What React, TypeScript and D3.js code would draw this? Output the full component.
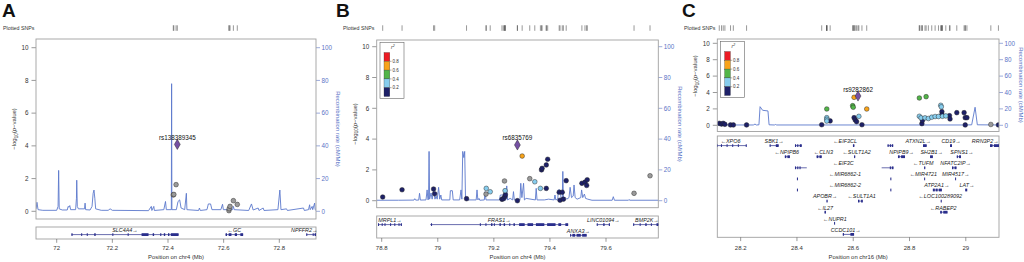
import React from "react";
import * as d3 from "d3";

const FONT = "'Liberation Sans', Arial, Helvetica, sans-serif";

type Gene = { name: string; start: number; end: number; strand: 1 | -1; row: number; exons: [number, number][]; label?: number };

// ---------- shared ----------
const leftTicks = [0, 2, 4, 6, 8, 10];
const rightTicks = [0, 20, 40, 60, 80, 100];
const ldBreaks = [0.2, 0.4, 0.6, 0.8];
const ldColors = ["#1d2068", "#87cdee", "#52b548", "#f8a31a", "#ec1c24"];
const ldLegendLabels = ["0.8", "0.6", "0.4", "0.2"];

// ---------- Panel A (chr4) ----------
const aDomain: [number, number] = [71.9256, 72.9319];
const aTicks = [72, 72.2, 72.4, 72.6, 72.8];
const aRecomb: [number, number][] = [
  [71.926, 1.5], [71.929, 5.5], [71.933, 1.0], [71.95, 0.6], [72.0, 0.6], [72.005, 3], [72.007, 25], [72.009, 1.5],
  [72.02, 0.8], [72.038, 0.8], [72.041, 3], [72.044, 2.5], [72.047, 3.5], [72.05, 1], [72.068, 1], [72.071, 8],
  [72.072, 19], [72.074, 3], [72.078, 1.5], [72.1, 1.5], [72.102, 5], [72.104, 1], [72.12, 0.8], [72.127, 3],
  [72.131, 11], [72.134, 13], [72.137, 8], [72.14, 1.5], [72.16, 0.6], [72.185, 0.6], [72.192, 1.5], [72.2, 0.6],
  [72.33, 0.4], [72.34, 3], [72.342, 0.5], [72.349, 3], [72.351, 0.5], [72.385, 1], [72.391, 6], [72.394, 1],
  [72.412, 1], [72.413, 78], [72.414, 1], [72.43, 1], [72.436, 6], [72.442, 7], [72.447, 2], [72.46, 1],
  [72.466, 11], [72.468, 1], [72.51, 0.5], [72.513, 2], [72.516, 0.5], [72.54, 1], [72.545, 4.5], [72.553, 4.5],
  [72.558, 1], [72.59, 1], [72.596, 4.3], [72.599, 1], [72.632, 1], [72.635, 3], [72.638, 1], [72.69, 0.5],
  [72.70, 4.5], [72.706, 0.8], [72.724, 2], [72.727, 0.5], [72.742, 2], [72.745, 0.5], [72.795, 1], [72.802, 13],
  [72.806, 1], [72.826, 1.5], [72.829, 0.5], [72.887, 2], [72.89, 0.5], [72.905, 1], [72.909, 4], [72.911, 1],
  [72.918, 3], [72.92, 1], [72.927, 5], [72.929, 1], [72.932, 0.5],
];
const aSnpPos = [72.419, 72.421, 72.429, 72.619, 72.62, 72.623, 72.635, 72.649];
const aSnpLogP = [1.0, 1.03, 1.63, 0.04, 0.16, 0.3, 0.65, 0.42];
const aSnpR2: (number | null)[] = [null, null, null, null, null, null, null, null];
const aLead = { name: "rs138389345", pos: 72.4335, logp: 4.09 };
const aGenes: Gene[] = [
  { name: "SLC4A4", start: 72.053, end: 72.438, strand: 1, row: 0, exons: [[72.053, 72.057], [72.088, 72.09], [72.108, 72.11], [72.135, 72.14], [72.2, 72.202], [72.255, 72.257], [72.305, 72.33], [72.345, 72.35], [72.372, 72.376], [72.385, 72.39], [72.4, 72.405], [72.41, 72.438]] },
  { name: "GC", start: 72.607, end: 72.67, strand: -1, row: 0, exons: [[72.607, 72.612], [72.618, 72.628], [72.64, 72.648], [72.66, 72.67]] },
  { name: "NPFFR2", start: 72.897, end: 72.96, strand: 1, row: 0, exons: [[72.897, 72.9], [72.92, 72.923], [72.927, 72.932]] },
];

// ---------- Panel B (chr4) ----------
const bDomain: [number, number] = [78.7822, 79.7865];
const bTicks = [78.8, 79, 79.2, 79.4, 79.6];
const bRecomb: [number, number][] = [
  [78.782, 0.3], [78.86, 0.3], [78.915, 0.4], [78.918, 1.3], [78.921, 0.4], [78.932, 0.4], [78.935, 4.8], [78.938, 0.4],
  [78.958, 0.5], [78.962, 7], [78.965, 0.5], [78.967, 1], [78.969, 32], [78.971, 1], [78.976, 5], [78.98, 1],
  [78.985, 7.4], [78.99, 1], [78.994, 3], [78.998, 1], [79.003, 8.7], [79.007, 1], [79.011, 3.7], [79.014, 0.5],
  [79.043, 0.5], [79.045, 6.5], [79.052, 6.5], [79.055, 0.5], [79.078, 0.5], [79.083, 7], [79.086, 1], [79.089, 32],
  [79.093, 28], [79.096, 32], [79.099, 1], [79.104, 2], [79.108, 0.5], [79.137, 0.5], [79.14, 7], [79.143, 0.5],
  [79.147, 1.5], [79.15, 0.3], [79.166, 0.5], [79.169, 5.9], [79.172, 0.5], [79.22, 0.5], [79.223, 3.7], [79.234, 3.7],
  [79.237, 0.5], [79.243, 0.5], [79.246, 9.6], [79.249, 0.5], [79.258, 1.5], [79.267, 0.5], [79.27, 5.9], [79.273, 0.5],
  [79.293, 0.5], [79.296, 11.3], [79.3, 2], [79.306, 11.3], [79.309, 0.5], [79.315, 1.5], [79.348, 0.5], [79.351, 8],
  [79.354, 0.5], [79.38, 0.5], [79.395, 1], [79.415, 0.5], [79.418, 3.7], [79.421, 0.5], [79.428, 1], [79.43, 7],
  [79.436, 7], [79.44, 1], [79.444, 1], [79.446, 19], [79.448, 1], [79.455, 2], [79.46, 1], [79.468, 2],
  [79.472, 8.7], [79.477, 2], [79.483, 3], [79.486, 10.2], [79.49, 2], [79.497, 1], [79.51, 2], [79.513, 7],
  [79.517, 2], [79.523, 4.3], [79.527, 1.5], [79.535, 1], [79.55, 0.3], [79.622, 0.3], [79.626, 2.6], [79.63, 0.3],
  [79.68, 0.3], [79.682, 0.8], [79.685, 0.3], [79.786, 0.3],
];
const bSnpPos = [78.8036, 78.8726, 78.985, 78.989, 79.1026, 79.173, 79.187, 79.172, 79.238, 79.24, 79.229, 79.234, 79.239, 79.241, 79.284, 79.301, 79.328, 79.346, 79.366, 79.37, 79.372, 79.387, 79.392, 79.387, 79.433, 79.444, 79.436, 79.448, 79.458, 79.514, 79.525, 79.533, 79.531, 79.7, 79.757];
const bSnpLogP = [0.24, 0.71, 0.76, 0.45, 0.13, 0.8, 0.58, 0.43, 1.28, 0.65, 0.09, 0.13, 0.26, 0.39, 0.0, 2.9, 1.43, 1.23, 0.8, 2.0, 2.1, 2.32, 2.69, 0.8, 0.55, 0.55, 0.03, 0.1, 1.3, 1.13, 1.2, 1.36, 0.99, 0.48, 1.62];
const bSnpR2: (number | null)[] = [0.1, 0.1, 0.1, 0.1, 0.1, 0.3, 0.3, null, null, 0.3, 0.1, 0.1, 0.1, 0.1, 0.1, 0.7, null, 0.3, 0.3, 0.1, 0.1, 0.1, 0.1, 0.1, 0.1, 0.1, 0.1, 0.1, 0.1, 0.1, 0.1, 0.1, 0.1, null, null];
const bLead = { name: "rs6835769", pos: 79.284, logp: 3.62 };
const bGenes: Gene[] = [
  { name: "MRPL1", start: 78.787, end: 78.872, strand: 1, row: 0, exons: [[78.787, 78.79], [78.8, 78.802], [78.81, 78.812], [78.83, 78.832], [78.845, 78.847], [78.86, 78.862], [78.868, 78.872]] },
  { name: "FRAS1", start: 78.973, end: 79.465, strand: 1, row: 0, exons: [[78.976, 78.979], [79.15, 79.152], [79.17, 79.172], [79.19, 79.195], [79.2, 79.202], [79.22, 79.225], [79.235, 79.24], [79.255, 79.258], [79.27, 79.275], [79.29, 79.31], [79.32, 79.34], [79.35, 79.38], [79.39, 79.42], [79.43, 79.44], [79.455, 79.465]] },
  { name: "LINC01094", start: 79.567, end: 79.614, strand: 1, row: 0, exons: [[79.567, 79.57], [79.59, 79.595], [79.61, 79.614]] },
  { name: "BMP2K", start: 79.697, end: 79.795, strand: 1, row: 0, exons: [[79.697, 79.7], [79.72, 79.722], [79.74, 79.745], [79.76, 79.762], [79.78, 79.795]] },
  { name: "ANXA3", start: 79.472, end: 79.531, strand: 1, row: 1, exons: [[79.472, 79.475], [79.48, 79.49], [79.495, 79.51], [79.515, 79.531]] },
];

// ---------- Panel C (chr16) ----------
const cDomain: [number, number] = [28.117, 29.118];
const cTicks = [28.2, 28.4, 28.6, 28.8, 29];
const cRecomb: [number, number][] = [
  [28.117, 0.4], [28.245, 0.4], [28.251, 1.5], [28.256, 0.4], [28.265, 0.6], [28.269, 22.7], [28.278, 18.3],
  [28.297, 17.5], [28.301, 0.6], [28.32, 0.4], [28.324, 1.0], [28.328, 0.4], [29.0, 0.4], [29.021, 0.6],
  [29.033, 22], [29.041, 0.6], [29.118, 0.4],
];
const cSnpPos = [
  28.124, 28.132, 28.138, 28.144, 28.164, 28.174, 28.221, 28.488, 28.518, 28.603, 28.607, 28.612, 28.631, 28.844, 28.846, 28.915, 28.915, 28.942, 28.944, 28.968, 28.994, 28.998, 29.004, 28.998, 29.116,
  28.506, 28.506, 28.506, 28.62, 28.835, 28.841, 28.855, 28.867, 28.879, 28.891, 28.903, 28.911, 28.913, 28.917, 28.929,
  28.506, 28.598, 28.6, 28.835, 28.859,
  28.603, 28.648,
  29.089,
];
const cSnpLogP = [
  0.24, 0.15, 0.24, 0.12, 0.04, 0.04, 0.04, 0.07, 0.53, 0.93, 0.65, 0.44, 0.07, 0.2, 0.6, 1.66, 1.3, 1.17, 0.77, 1.54, 1.54, 0.93, 0.93, 0.04, 0.04,
  0.93, 0.73, 0.52, 1.09, 1.1, 0.91, 0.91, 0.83, 0.99, 1.07, 1.07, 2.44, 2.25, 1.1, 1.14,
  1.99, 2.39, 2.2, 3.33, 3.49,
  3.41, 1.99,
  0.1,
];
const cSnpR2: (number | null)[] = [
  0.1, 0.1, 0.1, 0.1, 0.1, 0.1, 0.1, 0.1, 0.1, 0.1, 0.1, 0.1, 0.1, 0.1, 0.1, 0.1, 0.1, 0.1, 0.1, 0.1, 0.1, 0.1, 0.1, 0.1, 0.1,
  0.3, 0.3, 0.3, 0.3, 0.3, 0.3, 0.3, 0.3, 0.3, 0.3, 0.3, 0.3, 0.3, 0.3, 0.3,
  0.5, 0.5, 0.5, 0.5, 0.5,
  0.7, 0.7,
  null,
];
const cLead = { name: "rs9282862", pos: 28.617, logp: 3.57 };
const cGenes: Gene[] = [
  { name: "XPO6", start: 28.1, end: 28.221, strand: -1, row: 0, exons: [[28.1, 28.118], [28.13, 28.133], [28.15, 28.152], [28.17, 28.172], [28.19, 28.192], [28.218, 28.221]], label: 28.164 },
  { name: "SBK1", start: 28.303, end: 28.335, strand: 1, row: 0, exons: [[28.303, 28.306], [28.325, 28.335]] },
  { name: "", start: 28.393, end: 28.417, strand: 1, row: 0, exons: [[28.393, 28.397], [28.401, 28.405], [28.41, 28.417]] },
  { name: "EIF3CL", start: 28.599, end: 28.604, strand: -1, row: 0, exons: [[28.599, 28.604]], label: 28.571 },
  { name: "", start: 28.722, end: 28.742, strand: -1, row: 0, exons: [[28.722, 28.726], [28.73, 28.734], [28.737, 28.742]] },
  { name: "ATXN2L", start: 28.848, end: 28.861, strand: 1, row: 0, exons: [[28.848, 28.861]], label: 28.831 },
  { name: "CD19", start: 28.944, end: 28.951, strand: 1, row: 0, exons: [[28.944, 28.951]] },
  { name: "RRN3P2", start: 29.086, end: 29.14, strand: 1, row: 0, exons: [[29.086, 29.095], [29.1, 29.14]], label: 29.069 },
  { name: "NPIPB6", start: 28.357, end: 28.375, strand: -1, row: 1, exons: [[28.357, 28.362], [28.366, 28.375]], label: 28.364 },
  { name: "CLN3", start: 28.47, end: 28.488, strand: -1, row: 1, exons: [[28.47, 28.476], [28.48, 28.488]], label: 28.494 },
  { name: "SULT1A2", start: 28.603, end: 28.607, strand: -1, row: 1, exons: [[28.603, 28.607]], label: 28.612 },
  { name: "NPIPB9", start: 28.759, end: 28.784, strand: 1, row: 1, exons: [[28.759, 28.765], [28.77, 28.784]], label: 28.772 },
  { name: "SH2B1", start: 28.873, end: 28.883, strand: 1, row: 1, exons: [[28.873, 28.883]], label: 28.879 },
  { name: "SPNS1", start: 28.968, end: 28.983, strand: 1, row: 1, exons: [[28.968, 28.972], [28.976, 28.983]], label: 28.986 },
  { name: "", start: 28.393, end: 28.435, strand: 1, row: 2, exons: [[28.393, 28.397], [28.401, 28.405], [28.409, 28.413]] },
  { name: "EIF3C", start: 28.565, end: 28.565, strand: -1, row: 2, exons: [], label: 28.565 },
  { name: "", start: 28.701, end: 28.743, strand: -1, row: 2, exons: [[28.73, 28.734], [28.737, 28.743]] },
  { name: "TUFM", start: 28.852, end: 28.856, strand: -1, row: 2, exons: [[28.852, 28.856]], label: 28.849 },
  { name: "NFATC2IP", start: 28.951, end: 28.967, strand: 1, row: 2, exons: [[28.951, 28.956], [28.96, 28.967]], label: 28.964 },
  { name: "", start: 28.4, end: 28.402, strand: 1, row: 3, exons: [[28.4, 28.402]] },
  { name: "MIR6862-1", start: 28.571, end: 28.571, strand: -1, row: 3, exons: [], label: 28.571 },
  { name: "", start: 28.732, end: 28.734, strand: 1, row: 3, exons: [[28.732, 28.734]] },
  { name: "MIR4721", start: 28.852, end: 28.853, strand: -1, row: 3, exons: [[28.852, 28.854]], label: 28.849 },
  { name: "MIR4517", start: 28.962, end: 28.963, strand: 1, row: 3, exons: [[28.962, 28.964]], label: 28.964 },
  { name: "", start: 28.4, end: 28.402, strand: 1, row: 4, exons: [[28.4, 28.402]] },
  { name: "MIR6862-2", start: 28.571, end: 28.571, strand: -1, row: 4, exons: [], label: 28.571 },
  { name: "", start: 28.732, end: 28.734, strand: 1, row: 4, exons: [[28.732, 28.734]] },
  { name: "ATP2A1", start: 28.883, end: 28.915, strand: 1, row: 4, exons: [[28.883, 28.89], [28.893, 28.9], [28.904, 28.915]], label: 28.897 },
  { name: "LAT", start: 28.998, end: 29.005, strand: 1, row: 4, exons: [[28.998, 29.005]], label: 29.004 },
  { name: "APOBR", start: 28.505, end: 28.509, strand: 1, row: 5, exons: [[28.505, 28.509]], label: 28.5 },
  { name: "SULT1A1", start: 28.617, end: 28.634, strand: -1, row: 5, exons: [[28.617, 28.622], [28.628, 28.634]], label: 28.63 },
  { name: "LOC100289092", start: 28.911, end: 28.913, strand: -1, row: 5, exons: [[28.911, 28.913]], label: 28.909 },
  { name: "IL27", start: 28.498, end: 28.503, strand: -1, row: 6, exons: [[28.498, 28.503]], label: 28.5 },
  { name: "RABEP2", start: 28.909, end: 28.935, strand: -1, row: 6, exons: [[28.909, 28.915], [28.92, 28.935]], label: 28.92 },
  { name: "NUPR1", start: 28.532, end: 28.534, strand: -1, row: 7, exons: [[28.532, 28.534]], label: 28.535 },
  { name: "CCDC101", start: 28.563, end: 28.603, strand: 1, row: 8, exons: [[28.563, 28.567], [28.59, 28.603]], label: 28.573 },
];

// ---------- layouts (pixel geometry) ----------
const panels = [
  {
    id: "A", letter: "A", chr: "chr4", letterX: 2, snpTextX: 3,
    x0: 36, x1: 316, y0: 39, y1: 219, yZero: 211.3, yTen: 47.7,
    gy0: 227, gy1: 239, geneRow0: 230, rowH: 10.7, leftTitleY: 129, rightTitleY: 129, legend: false, leadDy: 4.5,
    data: { domain: aDomain, ticks: aTicks, recomb: aRecomb, pos: aSnpPos, logp: aSnpLogP, r2: aSnpR2, lead: aLead, genes: aGenes },
  },
  {
    id: "B", letter: "B", chr: "chr4", letterX: 336, snpTextX: 343,
    x0: 376.7, x1: 658.3, y0: 40, y1: 207.7, yZero: 200.7, yTen: 46.7,
    gy0: 216, gy1: 238, geneRow0: 220, rowH: 10.7, leftTitleY: 124, rightTitleY: 124, legend: true, leadDy: 4.5,
    data: { domain: bDomain, ticks: bTicks, recomb: bRecomb, pos: bSnpPos, logp: bSnpLogP, r2: bSnpR2, lead: bLead, genes: bGenes },
  },
  {
    id: "C", letter: "C", chr: "chr16", letterX: 682, snpTextX: 684,
    x0: 717.3, x1: 999, y0: 39, y1: 131.5, yZero: 125.3, yTen: 43.3,
    gy0: 136, gy1: 237.3, geneRow0: 141, rowH: 11.1, leftTitleY: 76, rightTitleY: 85, legend: true, leadDy: 4.5,
    data: { domain: cDomain, ticks: cTicks, recomb: cRecomb, pos: cSnpPos, logp: cSnpLogP, r2: cSnpR2, lead: cLead, genes: cGenes },
  },
];

const BLUE = "#5a74c6";
const LINE_BLUE = "#5b78cc";
const GENE = "#2a2e8c";
const BORDER = "#a0a0a0";
const TXT = "#333";

function LocusPanel({ L }: { L: any }) {
  const D = L.data;
  const x = d3.scaleLinear().domain(D.domain).range([L.x0, L.x1]);
  const y = d3.scaleLinear().domain([0, 10]).range([L.yZero, L.yTen]);
  const yr = d3.scaleLinear().domain([0, 100]).range([L.yZero, L.yTen]);
  const line = d3.line<[number, number]>().x((d) => x(d[0])).y((d) => yr(d[1]));
  const color = d3.scaleThreshold<number, string>().domain(ldBreaks).range(ldColors);
  const pts = D.pos.map((p: number, i: number) => ({ p, v: D.logp[i], r2: D.r2[i] }));
  pts.sort((a: any, b: any) => (a.r2 ?? -1) - (b.r2 ?? -1));
  const diamond = d3.symbol().type(d3.symbolDiamond).size(30)() as string;
  const clipId = `clip-${L.id}`;
  const gclipId = `gclip-${L.id}`;
  const allPos = [...D.pos, D.lead.pos];

  const geneFs = 5.4;
  const labelText = (g: Gene) => (g.strand === 1 ? `${g.name}\u2192` : `\u2190${g.name}`);

  // legend
  const lx = L.x0 + 3.3, ly = L.y0 + 2.3, lw = 24, lh = 56.3;
  const barX = lx + 4, barW = 5.8, barTop = ly + 10.2, segH = 8.8;
  const legendColors = [...ldColors].reverse();

  return (
    <g fontFamily={FONT}>
      <defs>
        <clipPath id={clipId}>
          <rect x={L.x0} y={L.y0} width={L.x1 - L.x0} height={L.y1 - L.y0} />
        </clipPath>
        <clipPath id={gclipId}>
          <rect x={L.x0} y={L.gy0} width={L.x1 - L.x0} height={L.gy1 - L.gy0} />
        </clipPath>
      </defs>

      <text x={L.letterX} y={17} fontSize={19} fontWeight="bold" fill="#111" fontFamily="'Liberation Sans', Arial, sans-serif">{L.letter}</text>

      {/* plotted SNPs */}
      <text x={L.snpTextX} y={30.4} fontSize={5.3} fill={TXT}>Plotted SNPs</text>
      {allPos.map((p: number, i: number) => (
        <line key={i} x1={x(p)} x2={x(p)} y1={25.3} y2={30.8} stroke="#444" strokeWidth={0.55} />
      ))}

      {/* left axis */}
      {leftTicks.map((t) => (
        <g key={t}>
          <line x1={L.x0 - 4.5} x2={L.x0} y1={y(t)} y2={y(t)} stroke="#555" strokeWidth={0.6} />
          <text x={L.x0 - 7.5} y={y(t) + 2.2} fontSize={6.3} textAnchor="end" fill={TXT}>{t}</text>
        </g>
      ))}
      <text transform={`translate(${L.x0 - 20},${L.leftTitleY}) rotate(-90)`} fontSize={6} textAnchor="middle" fill={TXT}>
        {"\u2212log"}<tspan fontSize={4.5} dy={1.5}>10</tspan><tspan dy={-1.5}>(</tspan><tspan fontStyle="italic">p</tspan>{"\u2212value)"}
      </text>

      {/* right axis */}
      {rightTicks.map((t) => (
        <g key={t}>
          <line x1={L.x1} x2={L.x1 + 4} y1={yr(t)} y2={yr(t)} stroke={BLUE} strokeWidth={0.6} />
          <text x={L.x1 + 5.5} y={yr(t) + 2.2} fontSize={6.3} fill={BLUE}>{t}</text>
        </g>
      ))}
      <text transform={`translate(${L.x1 + 19.5},${L.rightTitleY}) rotate(90)`} fontSize={6} textAnchor="middle" fill={BLUE}>
        Recombination rate (cM/Mb)
      </text>

      {/* recombination line */}
      <g clipPath={`url(#${clipId})`}>
        <path d={line(D.recomb) as string} fill="none" stroke={LINE_BLUE} strokeWidth={0.9} strokeLinejoin="round" />
        {pts.map((d: any, i: number) => (
          <circle key={i} cx={x(d.p)} cy={y(d.v)} r={2.35}
            fill={d.r2 == null ? "#9a9a9a" : color(d.r2)} stroke="#222" strokeWidth={0.45} />
        ))}
        <path d={diamond} transform={`translate(${x(D.lead.pos)},${y(D.lead.logp)})`} fill="#7550a3" stroke="#222" strokeWidth={0.45} />
      </g>
      <text x={x(D.lead.pos)} y={y(D.lead.logp) - L.leadDy} fontSize={6.3} textAnchor="middle" fill="#111">{D.lead.name}</text>

      <rect x={L.x0} y={L.y0} width={L.x1 - L.x0} height={L.y1 - L.y0} fill="none" stroke={BORDER} strokeWidth={0.9} />

      {/* legend */}
      {L.legend && (
        <g>
          <rect x={lx} y={ly} width={lw} height={lh} fill="white" stroke="#666" strokeWidth={0.6} />
          <text x={lx + 11} y={ly + 7} fontSize={5} fill={TXT} fontStyle="italic">r<tspan fontSize={3.5} dy={-2}>2</tspan></text>
          {legendColors.map((c, i) => (
            <rect key={i} x={barX} y={barTop + i * segH} width={barW} height={segH} fill={c} stroke="#333" strokeWidth={0.3} />
          ))}
          {ldLegendLabels.map((lab, i) => {
            const yy = barTop + (i + 1) * segH;
            return (
              <g key={lab}>
                <line x1={barX + barW} x2={barX + barW + 1.8} y1={yy} y2={yy} stroke="#333" strokeWidth={0.4} />
                <text x={barX + barW + 2.6} y={yy + 1.6} fontSize={4.5} fill={TXT}>{lab}</text>
              </g>
            );
          })}
        </g>
      )}

      {/* genes */}
      <rect x={L.x0} y={L.gy0} width={L.x1 - L.x0} height={L.gy1 - L.gy0} fill="white" stroke={BORDER} strokeWidth={0.9} />
      <g clipPath={`url(#${gclipId})`}>
        {D.genes.map((g: Gene, i: number) => {
          const ly2 = L.geneRow0 + g.row * L.rowH + 4.6;
          return (
            <g key={i}>
              {g.end > g.start && (
                <line x1={x(g.start)} x2={x(g.end)} y1={ly2} y2={ly2} stroke={GENE} strokeWidth={0.7} />
              )}
              {g.exons.map((e, j) => (
                <rect key={j} x={x(e[0])} y={ly2 - 1.4} width={Math.max(1, x(e[1]) - x(e[0]))} height={2.8} fill={GENE} />
              ))}
            </g>
          );
        })}
      </g>
      {D.genes.filter((g: Gene) => g.name).map((g: Gene, i: number) => {
        const t = labelText(g);
        const w = t.length * geneFs * 0.52;
        let cx = x(g.label ?? (g.start + g.end) / 2);
        cx = Math.max(L.x0 + w / 2 + 2, Math.min(L.x1 - w / 2 - 2, cx));
        const cy = L.geneRow0 + g.row * L.rowH + 1.9;
        return (
          <text key={i} x={cx} y={cy} fontSize={geneFs} fontStyle="italic" textAnchor="middle" fill="#222">{t}</text>
        );
      })}

      {/* x axis */}
      {D.ticks.map((t: number) => (
        <g key={t}>
          <line x1={x(t)} x2={x(t)} y1={L.gy1} y2={L.gy1 + 3.8} stroke="#555" strokeWidth={0.6} />
          <text x={x(t)} y={250.2} fontSize={6} textAnchor="middle" fill={TXT}>{d3.format("")(t)}</text>
        </g>
      ))}
      <text x={(L.x0 + L.x1) / 2} y={258.8} fontSize={5.9} textAnchor="middle" fill={TXT}>
        {`Position on ${L.chr} (Mb)`}
      </text>
    </g>
  );
}

export default function App() {
  return (
    <svg width={1024} height={262} viewBox="0 0 1024 262"
      style={{ position: "absolute", left: 0, top: 0, background: "white" }}>
      <rect x={0} y={0} width={1024} height={262} fill="white" />
      {panels.map((L) => (
        <LocusPanel key={L.id} L={L} />
      ))}
    </svg>
  );
}
